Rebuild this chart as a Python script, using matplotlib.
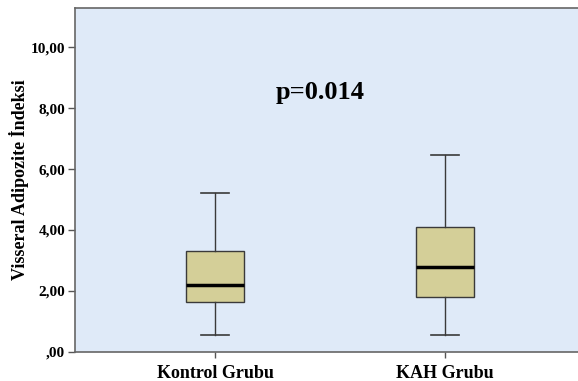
import matplotlib
matplotlib.use("Agg")
import matplotlib.pyplot as plt

categories = ["Kontrol Grubu", "KAH Grubu"]
whislo = [0.56, 0.56]
q1 = [1.63, 1.81]
med = [2.20, 2.80]
q3 = [3.31, 4.09]
whishi = [5.20, 6.45]
yticks = [0, 2, 4, 6, 8, 10]
ytick_labels = [",00", "2,00", "4,00", "6,00", "8,00", "10,00"]
p_text = "p=0.014"

plt.rcParams['font.family'] = ['Liberation Serif', 'DejaVu Serif']

fig = plt.figure(figsize=(5.78, 3.81), dpi=100)
ax = fig.add_axes([75/578, 1-352/381, (585-75)/578, (352-8)/381])
ax.set_facecolor('#DFEAF8')

stats = []
for i, c in enumerate(categories):
    stats.append(dict(label=c, whislo=whislo[i], q1=q1[i], med=med[i], q3=q3[i], whishi=whishi[i], fliers=[]))

ax.bxp(stats, positions=[1, 2], widths=0.252, patch_artist=True, showfliers=False,
       capwidths=0.122,
       boxprops=dict(facecolor='#D4CF98', edgecolor='#3a3a3a', linewidth=1.0),
       medianprops=dict(color='black', linewidth=2.5),
       whiskerprops=dict(color='#3a3a3a', linewidth=1.0),
       capprops=dict(color='#3a3a3a', linewidth=1.2))

ax.set_xlim(0.391, 2.609)
ax.set_ylim(0, 11.28)
ax.set_yticks(yticks)
ax.set_yticklabels(ytick_labels, fontsize=11, fontweight='bold')
ax.set_xticks([1, 2])
ax.set_xticklabels(categories, fontsize=13, fontweight='bold')
ax.set_ylabel("Visseral Adipozite İndeksi", fontsize=13, fontweight='bold', labelpad=1)
ax.tick_params(axis='y', length=5, width=1, color='#555555', pad=2)
ax.tick_params(axis='x', length=4, width=1, color='#555555', pad=5)
for s in ['left', 'bottom', 'top']:
    ax.spines[s].set_color('#666666')
    ax.spines[s].set_linewidth(1.2)
ax.spines['right'].set_visible(False)

ax.text(1.456, 8.52, p_text, fontsize=19, fontweight='bold', ha='center', va='center')

fig.savefig("out.png", dpi=100)
